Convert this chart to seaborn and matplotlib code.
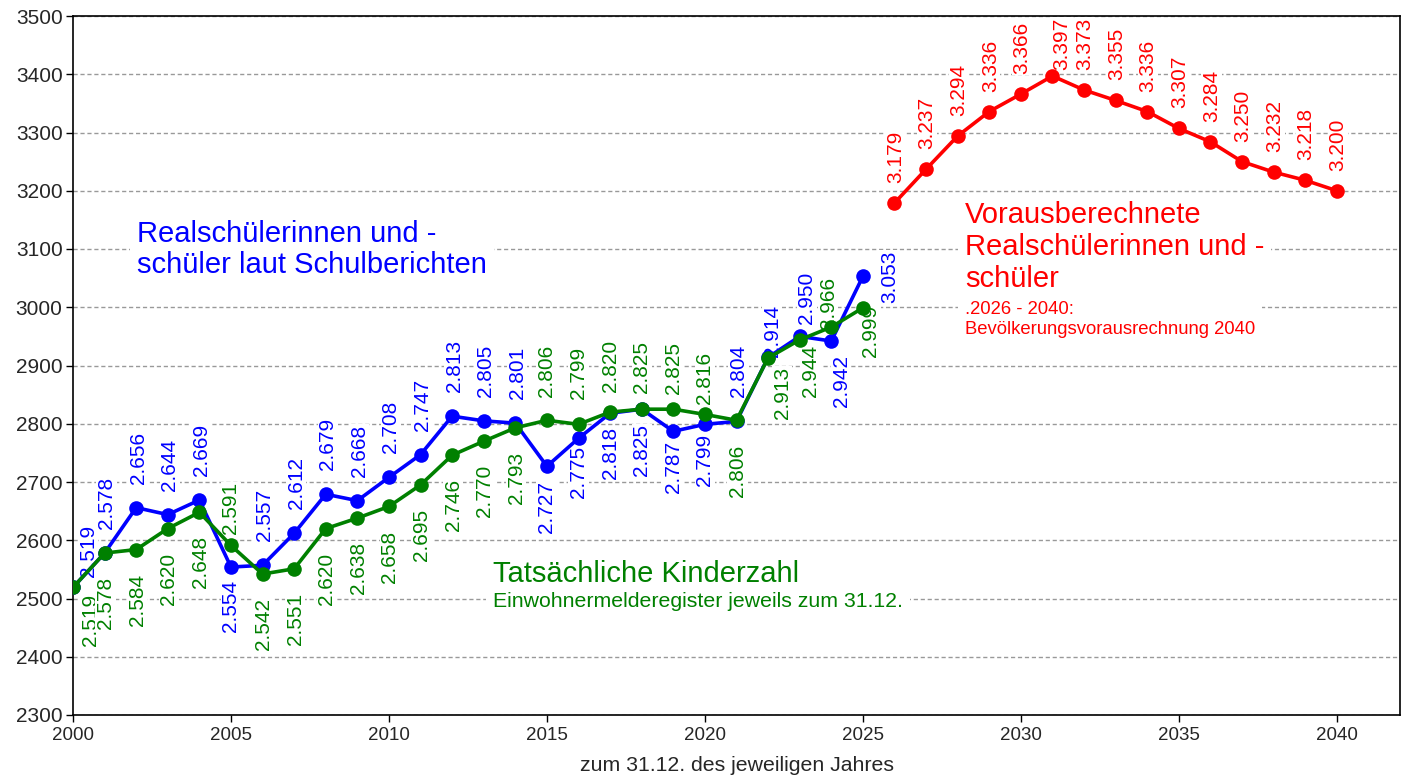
import pandas as pd
import matplotlib
matplotlib.use('Agg')
import matplotlib.pyplot as plt
import seaborn as sns

# data
years_ist = list(range(2000, 2026))
schueler = [2519, 2578, 2656, 2644, 2669, 2554, 2557, 2612, 2679, 2668, 2708, 2747, 2813,
            2805, 2801, 2727, 2775, 2818, 2825, 2787, 2799, 2804, 2914, 2950, 2942, 3053]
kinder = [2519, 2578, 2584, 2620, 2648, 2591, 2542, 2551, 2620, 2638, 2658, 2695, 2746,
          2770, 2793, 2806, 2799, 2820, 2825, 2825, 2816, 2806, 2913, 2944, 2966, 2999]
years_prog = list(range(2026, 2041))
prognose = [3179, 3237, 3294, 3336, 3366, 3397, 3373, 3355, 3336, 3307, 3284, 3250, 3232, 3218, 3200]

x_ticks = list(range(2000, 2041, 5))
y_ticks = list(range(2300, 3501, 100))

BLUE, GREEN, RED = '#0000FF', '#008000', '#FF0000'

sns.set_style('ticks')
plt.rcParams['font.family'] = ['Liberation Sans', 'DejaVu Sans']

fig = plt.figure(figsize=(14.08, 7.83), dpi=100)
ax = fig.add_axes([73 / 1408, 1 - 715 / 783, 1327 / 1408, 699 / 783])

df_s = pd.DataFrame({'Jahr': years_ist, 'Wert': schueler})
df_k = pd.DataFrame({'Jahr': years_ist, 'Wert': kinder})
df_p = pd.DataFrame({'Jahr': years_prog, 'Wert': prognose})

line_kw = dict(marker='o', markersize=10.5, markeredgewidth=0, linewidth=2.6, zorder=3)
sns.lineplot(data=df_s, x='Jahr', y='Wert', color=BLUE, ax=ax, **line_kw)
sns.lineplot(data=df_k, x='Jahr', y='Wert', color=GREEN, ax=ax, **line_kw)
sns.lineplot(data=df_p, x='Jahr', y='Wert', color=RED, ax=ax, **line_kw)


def fmt(v):
    return f"{v:,}".replace(',', '.')


def label(x, y, color, pos, dx=0, dy=24):
    # pos: 'a' above, 'b' below, 'r' right; offsets in pixels
    if pos == 'a':
        xy, va, ha = (dx, dy), 'bottom', 'center'
    elif pos == 'b':
        xy, va, ha = (dx, -dy), 'top', 'center'
    else:
        xy, va, ha = (dx, 0), 'center', 'left'
    ax.annotate(fmt(y), (x, y), xytext=xy, textcoords='offset pixels', rotation=90,
                ha=ha, va=va, color=color, fontsize=15, zorder=2.5,
                bbox=dict(facecolor='white', edgecolor='none', pad=0.5))


# label placement (above/below, dx, gap) as in the reference
blue_pos = {2000: ('a', 15, 10), 2005: ('b', 0, 13), 2015: ('b', 0, 15), 2016: ('b', 0, 8),
            2017: ('b', 0, 14), 2018: ('b', 0, 15), 2019: ('b', 0, 10), 2020: ('b', 0, 10),
            2022: ('a', 4, 0), 2023: ('a', 7, 12), 2024: ('b', 10, 14), 2025: ('r', 17, 0)}
green_pos = {2000: ('b', 17, 6), 2005: ('a', 0, 11), 2015: ('a', 0, 23), 2016: ('a', 0, 25),
             2017: ('a', 0, 20), 2018: ('a', 0, 16), 2019: ('a', 0, 15), 2020: ('a', 0, 10),
             2022: ('b', 14, 9), 2023: ('b', 11, 5), 2024: ('a', -3, -2), 2025: ('b', 8, -3)}

for yr, v in zip(years_ist, schueler):
    p, dx, dy = blue_pos.get(yr, ('a', 2, 24))
    label(yr, v, BLUE, p, dx, dy)
for yr, v in zip(years_ist, kinder):
    p, dx, dy = green_pos.get(yr, ('b', 1, 24))
    label(yr, v, GREEN, p, dx, dy)
for yr, v in zip(years_prog, prognose):
    if yr == 2031:
        label(yr, v, RED, 'a', 9, 6)
    else:
        label(yr, v, RED, 'a', 1, 20)

# text blocks (y = baseline of the last line)
box = dict(facecolor='white', edgecolor='none', pad=5)
ax.text(2002.03, 3058.8, 'Realschülerinnen und -\nschüler laut Schulberichten', color=BLUE,
        fontsize=21, va='baseline', ha='left', linespacing=1.15, bbox=box, zorder=2)
ax.text(2013.3, 2528.3, 'Tatsächliche Kinderzahl', color=GREEN, fontsize=21,
        va='baseline', ha='left', bbox=box, zorder=2)
ax.text(2013.3, 2485.9, 'Einwohnermelderegister jeweils zum 31.12.', color=GREEN, fontsize=15.3,
        va='baseline', ha='left', bbox=box, zorder=2)
ax.text(2028.23, 3034, 'Vorausberechnete\nRealschülerinnen und -\nschüler', color=RED, fontsize=21,
        va='baseline', ha='left', bbox=box, zorder=2)
ax.text(2028.23, 2954, '.2026 - 2040:\nBevölkerungsvorausrechnung 2040', color=RED, fontsize=13.3,
        va='baseline', ha='left', bbox=box, zorder=2)

ax.set_xlim(2000, 2042)
ax.set_ylim(2300, 3500)
ax.set_xticks(x_ticks)
ax.set_yticks(y_ticks)
ax.tick_params(axis='x', labelsize=13.5, length=5, width=1, color='black')
ax.tick_params(axis='y', labelsize=15, length=5, width=1, color='black', pad=2.5)
ax.yaxis.grid(True, linestyle=(0, (3, 2)), color='#999999', linewidth=1)
ax.set_axisbelow(True)
for s in ax.spines.values():
    s.set_visible(True)
    s.set_color('black')
    s.set_linewidth(1.2)
ax.set_xlabel('zum 31.12. des jeweiligen Jahres', fontsize=15.3, labelpad=9)
ax.set_ylabel('')

fig.savefig('out.png', dpi=100, facecolor='white')
